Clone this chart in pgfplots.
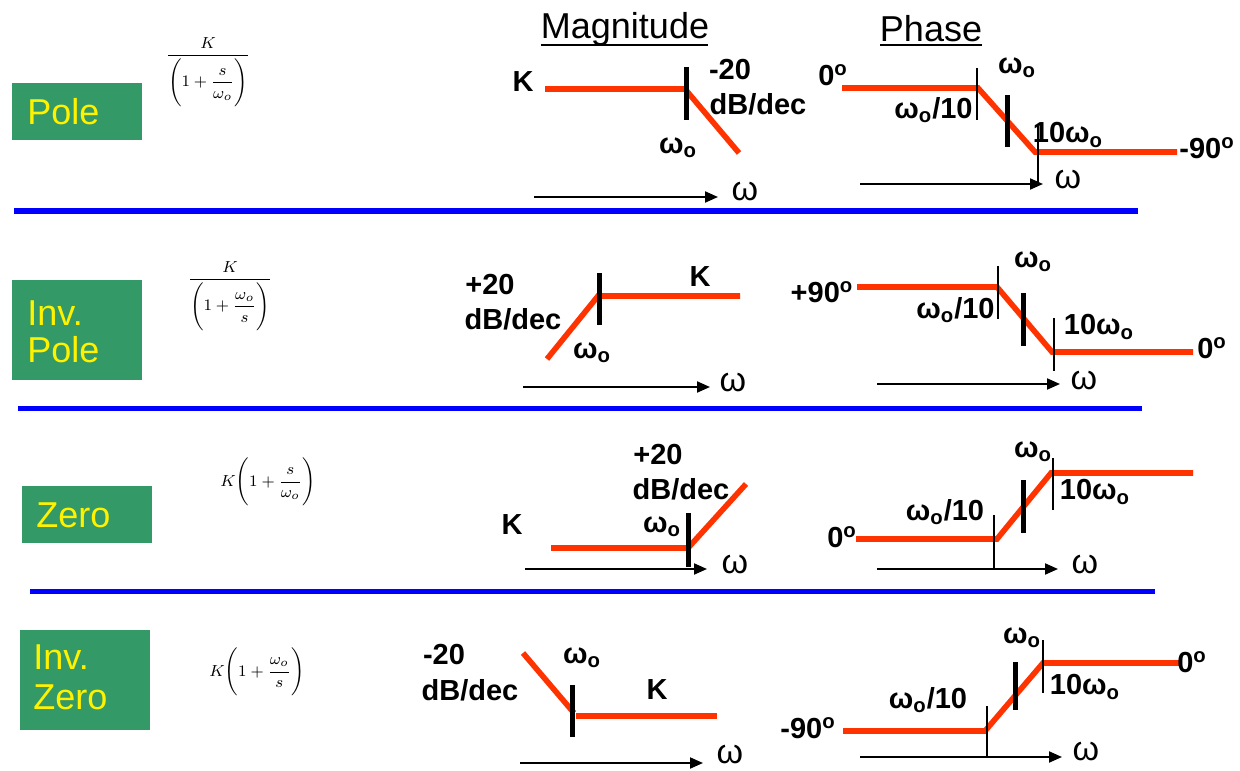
\documentclass[border=0pt]{standalone}
\usepackage{amsmath}
\usepackage{fontspec}
\setmainfont{Liberation Sans}
\usepackage{pgfplots}
\pgfplotsset{compat=1.18}
\usetikzlibrary{arrows.meta}
\definecolor{boxgreen}{RGB}{51,153,102}
\definecolor{asym}{RGB}{255,51,0}
\definecolor{sep}{RGB}{0,0,255}
\newcommand\wo{ω\textsubscript{o}}
\newcommand\dg{\textsuperscript{o}}
\tikzset{
  asymp/.style={color=asym, line width=2.8pt, line cap=butt, line join=miter},
  thk/.style={black, line width=2.5pt},
  thn/.style={black, line width=1.4pt},
  warr/.style={black, line width=1pt, -{Triangle[length=6.5pt,width=5.5pt]}},
  lab/.style={font=\fontsize{14.5}{17}\selectfont\bfseries, inner sep=0pt},
  om/.style={font=\fontsize{17}{20}\selectfont, inner sep=0pt},
  box/.style={font=\fontsize{18}{21}\selectfont, text=yellow, inner sep=0pt, anchor=west},
  frm/.style={font=\fontsize{8.5}{10}\selectfont, inner sep=0pt},
  hdr/.style={font=\fontsize{18}{21}\selectfont, inner sep=0pt},
}
\begin{document}
\begin{tikzpicture}
\begin{axis}[scale only axis, width=620pt, height=385pt,
  xmin=0, xmax=1240, ymin=0, ymax=770, y dir=reverse,
  hide axis, clip=false]
\path (rel axis cs:0,0) rectangle (rel axis cs:1,1);

% headings
\node[hdr] at (axis cs:625,29) {Magnitude};
\node[hdr] at (axis cs:931,29) {Phase};
\addplot[black, line width=1.2pt] coordinates {(541,45) (708,45)};
\addplot[black, line width=1.2pt] coordinates {(880,45) (982,45)};

% row separators
\addplot[sep, line width=2.5pt] coordinates {(14,211) (1138,211)};
\addplot[sep, line width=2.5pt] coordinates {(18,408) (1142,408)};
\addplot[sep, line width=2.5pt] coordinates {(30,591) (1155,591)};

% factor names
\fill[boxgreen] (axis cs:12,83) rectangle (axis cs:142,140);
\node[box] at (axis cs:27,112) {Pole};
\fill[boxgreen] (axis cs:12,280) rectangle (axis cs:142,380);
\node[box] at (axis cs:27,313) {Inv.};
\node[box] at (axis cs:27,350) {Pole};
\fill[boxgreen] (axis cs:22,486) rectangle (axis cs:152,543);
\node[box] at (axis cs:36,515) {Zero};
\fill[boxgreen] (axis cs:20,630) rectangle (axis cs:150,730);
\node[box] at (axis cs:33,657) {Inv.};
\node[box] at (axis cs:33,697) {Zero};

% transfer functions
\node[frm] at (axis cs:208,72) {$\dfrac{K}{\Biggl(1+\dfrac{s}{\omega_o}\Biggr)}$};
\node[frm] at (axis cs:230,296) {$\dfrac{K}{\Biggl(1+\dfrac{\omega_o}{s}\Biggr)}$};
\node[frm] at (axis cs:268,482) {$K\Biggl(1+\dfrac{s}{\omega_o}\Biggr)$};
\node[frm] at (axis cs:257,672) {$K\Biggl(1+\dfrac{\omega_o}{s}\Biggr)$};

% ---- Pole: magnitude
\addplot[asymp] coordinates {(545,89) (685,89) (739,153)};
\addplot[thk] coordinates {(686,67) (686,120)};
\addplot[warr] coordinates {(534,197) (718,197)};
\node[lab] at (axis cs:523,82) {K};
\node[lab] at (axis cs:730,70) {-20};
\node[lab] at (axis cs:758,104) {dB/dec};
\node[lab] at (axis cs:678,148) {\wo};
\node[om] at (axis cs:745,192) {ω};
% ---- Pole: phase
\addplot[asymp] coordinates {(842,88) (978,88) (1035,152) (1177,152)};
\addplot[thn] coordinates {(977,68) (977,120)};
\addplot[thk] coordinates {(1007,95) (1007,147)};
\addplot[thn] coordinates {(1038,126) (1038,182)};
\addplot[warr] coordinates {(860,184) (1043,184)};
\node[lab] at (axis cs:833,75) {0\dg};
\node[lab] at (axis cs:1017,68) {\wo};
\node[lab, anchor=east] at (axis cs:973,110) {\wo/10};
\node[lab] at (axis cs:1068,135) {10\wo};
\node[lab] at (axis cs:1207,148) {-90\dg};
\node[om] at (axis cs:1068,180) {ω};

% ---- Inverted pole: magnitude
\addplot[asymp] coordinates {(547,359) (598,296) (740,296)};
\addplot[thk] coordinates {(599,273) (599,325)};
\addplot[warr] coordinates {(523,387) (710,387)};
\node[lab] at (axis cs:490,285) {+20};
\node[lab] at (axis cs:513,319) {dB/dec};
\node[lab] at (axis cs:700,277) {K};
\node[lab] at (axis cs:592,353) {\wo};
\node[om] at (axis cs:733,383) {ω};
% ---- Inverted pole: phase
\addplot[asymp] coordinates {(857,287) (997,287) (1052,352) (1193,352)};
\addplot[thn] coordinates {(998,266) (998,319)};
\addplot[thk] coordinates {(1023,293) (1023,346)};
\addplot[thn] coordinates {(1054,318) (1054,371)};
\addplot[warr] coordinates {(877,384) (1060,384)};
\node[lab] at (axis cs:822,292) {+90\dg};
\node[lab] at (axis cs:1033,262) {\wo};
\node[lab, anchor=east] at (axis cs:995,310) {\wo/10};
\node[lab] at (axis cs:1099,327) {10\wo};
\node[lab] at (axis cs:1212,348) {0\dg};
\node[om] at (axis cs:1084,381) {ω};

% ---- Zero: magnitude
\addplot[asymp] coordinates {(551,548) (688,548) (746,484)};
\addplot[thk] coordinates {(688,513) (688,567)};
\addplot[warr] coordinates {(525,569) (707,569)};
\node[lab] at (axis cs:512,525) {K};
\node[lab] at (axis cs:658,455) {+20};
\node[lab] at (axis cs:681,489) {dB/dec};
\node[lab] at (axis cs:662,527) {\wo};
\node[om] at (axis cs:735,565) {ω};
% ---- Zero: phase
\addplot[asymp] coordinates {(856,539) (997,539) (1051,473) (1193,473)};
\addplot[thn] coordinates {(994,515) (994,568)};
\addplot[thk] coordinates {(1023,480) (1023,533)};
\addplot[thn] coordinates {(1053,458) (1053,510)};
\addplot[warr] coordinates {(877,569) (1058,569)};
\node[lab] at (axis cs:842,537) {0\dg};
\node[lab] at (axis cs:945,512) {\wo/10};
\node[lab] at (axis cs:1033,452) {\wo};
\node[lab] at (axis cs:1095,492) {10\wo};
\node[om] at (axis cs:1085,565) {ω};

% ---- Inverted zero: magnitude
\addplot[asymp] coordinates {(523,653) (574,713)};
\addplot[asymp] coordinates {(576,716) (717,716)};
\addplot[thk] coordinates {(572,685) (572,737)};
\addplot[warr] coordinates {(520,763) (703,763)};
\node[lab] at (axis cs:444,655) {-20};
\node[lab] at (axis cs:470,690) {dB/dec};
\node[lab] at (axis cs:582,658) {\wo};
\node[lab] at (axis cs:657,690) {K};
\node[om] at (axis cs:730,754) {ω};
% ---- Inverted zero: phase
\addplot[asymp] coordinates {(843,731) (985,731) (1043,663) (1180,663)};
\addplot[thn] coordinates {(987,706) (987,757)};
\addplot[thk] coordinates {(1015,662) (1015,710)};
\addplot[thn] coordinates {(1043,640) (1043,693)};
\addplot[warr] coordinates {(860,757) (1062,757)};
\node[lab] at (axis cs:808,728) {-90\dg};
\node[lab] at (axis cs:1022,638) {\wo};
\node[lab] at (axis cs:1192,662) {0\dg};
\node[lab] at (axis cs:1085,687) {10\wo};
\node[lab] at (axis cs:928,700) {\wo/10};
\node[om] at (axis cs:1086,752) {ω};
\end{axis}
\end{tikzpicture}
\end{document}
